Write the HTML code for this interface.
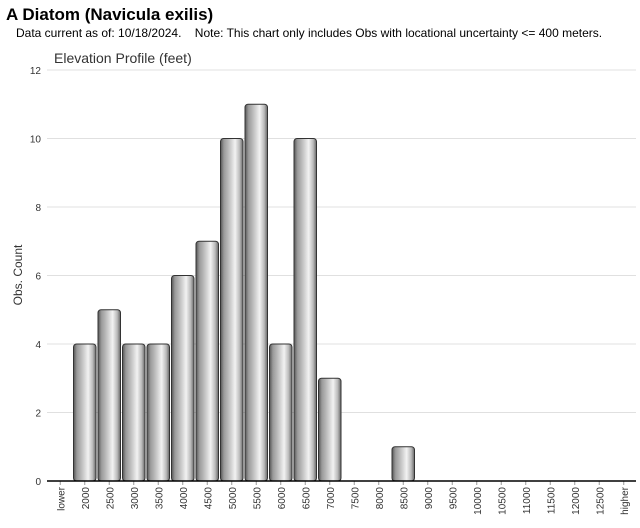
<!DOCTYPE html>
<html><head><meta charset="utf-8"><style>
body{margin:0;background:#fff;width:640px;height:523px;overflow:hidden;font-family:"Liberation Sans",sans-serif}
</style></head><body>
<svg width="640" height="523" xmlns="http://www.w3.org/2000/svg">
<defs><linearGradient id="g" x1="0" x2="1" y1="0" y2="0">
<stop offset="0" stop-color="#555"/><stop offset="0.15" stop-color="#999"/><stop offset="0.35" stop-color="#bbb"/><stop offset="0.65" stop-color="#f2f2f2"/><stop offset="0.85" stop-color="#bbb"/><stop offset="1" stop-color="#666"/></linearGradient></defs>
<text x="6" y="20" font-size="17" font-weight="bold">A Diatom   (Navicula exilis)</text>
<text x="16" y="37" font-size="12" xml:space="preserve">Data current as of: 10/18/2024.    Note: This chart only includes Obs with locational uncertainty &lt;= 400 meters.</text>
<text x="54" y="63" font-size="14" fill="#333">Elevation Profile (feet)</text>
<text transform="translate(22,275) rotate(-90)" text-anchor="middle" font-size="12" fill="#333">Obs. Count</text>
<g id="grid"></g><g id="bars"></g><g id="xl"></g>
<line x1="47" x2="636" y1="481" y2="481" stroke="#000" stroke-width="1.5"/>
</svg>
<script>
const categories=["lower","2000","2500","3000","3500","4000","4500","5000","5500","6000","6500","7000","7500","8000","8500","9000","9500","10000","10500","11000","11500","12000","12500","higher"];
const counts=[0,4,5,4,4,6,7,10,11,4,10,3,0,0,1,0,0,0,0,0,0,0,0,0];
const yTicks=[0,2,4,6,8,10,12];
const NS="http://www.w3.org/2000/svg";
const x0=48,x1=636,y0=481,y1=70,yMax=12;
const bw=(x1-x0)/categories.length;
const yS=v=>y0-(v/yMax)*(y0-y1);
const xS=i=>x0+i*bw;
const grid=document.getElementById('grid'),bars=document.getElementById('bars'),xl=document.getElementById('xl');
function mk(t,a){const e=document.createElementNS(NS,t);for(const k in a)e.setAttribute(k,a[k]);return e;}
yTicks.forEach(v=>{
 const l=mk('line',{x1:47,x2:636,y1:yS(v),y2:yS(v),stroke:'#e0e0e0'});
 
 
 grid.appendChild(l);
 const t=mk('text',{x:41,y:yS(v)+4,'text-anchor':'end','font-size':'10',fill:'#333'});
 t.textContent=v;
 
 
 grid.appendChild(t);
});
categories.forEach((c,i)=>{
 const cx=xS(i)+bw/2;
 const t=mk('text',{transform:`translate(${cx+4},487) rotate(-90)`,'text-anchor':'end','font-size':'10',fill:'#333'});
 t.textContent=c;
 
 
 xl.appendChild(t);
 const tk=mk('line',{x1:cx,x2:cx,y1:481,y2:485,stroke:'#999'});
 
 
 xl.appendChild(tk);
 if(counts[i]>0){
  const r=mk('rect',{x:xS(i)+1,y:yS(counts[i]),width:bw-2,height:y0-yS(counts[i]),rx:3,fill:'url(#g)',stroke:'#333','stroke-width':'1'});
  
  
  bars.appendChild(r);
 }
});
</script>
</body></html>
